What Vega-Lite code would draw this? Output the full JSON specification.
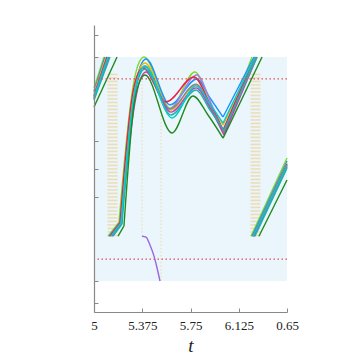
{
  "$schema": "https://vega.github.io/schema/vega-lite/v6.json",
  "width": 193,
  "height": 287,
  "autosize": "none",
  "padding": {"left": 94, "top": 25, "right": 74, "bottom": 43},
  "background": "white",
  "config": {"view": {"stroke": null}},
  "datasets": {
    "bg": [{"x1": 5, "x2": 6.5, "y1": 0, "y2": 1}],
    "hlines": [{"y": 0.902}, {"y": 0.098}],
    "vlines": [
      {"x": 5.109, "ya": 0.2, "yb": 0.93}, {"x": 5.117, "ya": 0.2, "yb": 0.93}, {"x": 5.124, "ya": 0.2, "yb": 0.93},
      {"x": 5.132, "ya": 0.2, "yb": 0.93}, {"x": 5.140, "ya": 0.2, "yb": 0.93}, {"x": 5.148, "ya": 0.2, "yb": 0.93},
      {"x": 5.156, "ya": 0.2, "yb": 0.93}, {"x": 5.163, "ya": 0.2, "yb": 0.93}, {"x": 5.171, "ya": 0.2, "yb": 0.93},
      {"x": 5.179, "ya": 0.2, "yb": 0.93},
      {"x": 5.373, "ya": 0.2, "yb": 0.93},
      {"x": 5.521, "ya": 0.0, "yb": 0.82},
      {"x": 6.220, "ya": 0.2, "yb": 0.93}, {"x": 6.228, "ya": 0.2, "yb": 0.93}, {"x": 6.236, "ya": 0.2, "yb": 0.93},
      {"x": 6.243, "ya": 0.2, "yb": 0.93}, {"x": 6.251, "ya": 0.2, "yb": 0.93}, {"x": 6.259, "ya": 0.2, "yb": 0.93},
      {"x": 6.267, "ya": 0.2, "yb": 0.93}, {"x": 6.275, "ya": 0.2, "yb": 0.93}, {"x": 6.282, "ya": 0.2, "yb": 0.93},
      {"x": 6.290, "ya": 0.2, "yb": 0.93}
    ],
    "tail": [
      {"x": 5.373, "y": 0.2}, {"x": 5.404, "y": 0.196}, {"x": 5.435, "y": 0.161},
      {"x": 5.466, "y": 0.112}, {"x": 5.490, "y": 0.058}, {"x": 5.513, "y": 0.0}
    ],
    "curves": [
      {"c": "lime", "s": 1, "x": 5.0, "y": 0.862}, {"c": "lime", "s": 1, "x": 5.078, "y": 1.0},
      {"c": "lime", "s": 2, "x": 5.109, "y": 0.2}, {"c": "lime", "s": 2, "x": 5.194, "y": 0.263},
      {"c": "lime", "s": 3, "x": 5.194, "y": 0.263}, {"c": "lime", "s": 3, "x": 5.303, "y": 0.866},
      {"c": "lime", "s": 3, "x": 5.342, "y": 0.964}, {"c": "lime", "s": 3, "x": 5.389, "y": 1.0},
      {"c": "lime", "s": 3, "x": 5.591, "y": 0.772}, {"c": "lime", "s": 3, "x": 5.785, "y": 0.933},
      {"c": "lime", "s": 3, "x": 5.894, "y": 0.797}, {"c": "lime", "s": 3, "x": 6.003, "y": 0.661},
      {"c": "lime", "s": 4, "x": 6.003, "y": 0.661}, {"c": "lime", "s": 4, "x": 6.228, "y": 1.0},
      {"c": "lime", "s": 5, "x": 6.220, "y": 0.2}, {"c": "lime", "s": 5, "x": 6.5, "y": 0.549},

      {"c": "blue", "s": 1, "x": 5.0, "y": 0.848}, {"c": "blue", "s": 1, "x": 5.085, "y": 1.0},
      {"c": "blue", "s": 2, "x": 5.117, "y": 0.2}, {"c": "blue", "s": 2, "x": 5.202, "y": 0.263},
      {"c": "blue", "s": 3, "x": 5.202, "y": 0.263}, {"c": "blue", "s": 3, "x": 5.319, "y": 0.857},
      {"c": "blue", "s": 3, "x": 5.358, "y": 0.955}, {"c": "blue", "s": 3, "x": 5.404, "y": 0.991},
      {"c": "blue", "s": 3, "x": 5.591, "y": 0.786}, {"c": "blue", "s": 3, "x": 5.800, "y": 0.902},
      {"c": "blue", "s": 3, "x": 5.902, "y": 0.817}, {"c": "blue", "s": 3, "x": 6.003, "y": 0.732},
      {"c": "blue", "s": 4, "x": 6.003, "y": 0.732}, {"c": "blue", "s": 4, "x": 6.243, "y": 1.0},
      {"c": "blue", "s": 5, "x": 6.228, "y": 0.2}, {"c": "blue", "s": 5, "x": 6.5, "y": 0.536},

      {"c": "gold", "s": 1, "x": 5.0, "y": 0.839}, {"c": "gold", "s": 1, "x": 5.093, "y": 1.0},
      {"c": "gold", "s": 2, "x": 5.124, "y": 0.2}, {"c": "gold", "s": 2, "x": 5.202, "y": 0.259},
      {"c": "gold", "s": 3, "x": 5.202, "y": 0.259}, {"c": "gold", "s": 3, "x": 5.311, "y": 0.839},
      {"c": "gold", "s": 3, "x": 5.350, "y": 0.938}, {"c": "gold", "s": 3, "x": 5.396, "y": 0.973},
      {"c": "gold", "s": 3, "x": 5.591, "y": 0.763}, {"c": "gold", "s": 3, "x": 5.793, "y": 0.875},
      {"c": "gold", "s": 3, "x": 5.902, "y": 0.786}, {"c": "gold", "s": 3, "x": 6.003, "y": 0.696},
      {"c": "gold", "s": 4, "x": 6.003, "y": 0.696}, {"c": "gold", "s": 4, "x": 6.251, "y": 1.0},
      {"c": "gold", "s": 5, "x": 6.236, "y": 0.2}, {"c": "gold", "s": 5, "x": 6.5, "y": 0.527},

      {"c": "purple", "s": 1, "x": 5.0, "y": 0.830}, {"c": "purple", "s": 1, "x": 5.101, "y": 1.0},
      {"c": "purple", "s": 2, "x": 5.132, "y": 0.2}, {"c": "purple", "s": 2, "x": 5.210, "y": 0.259},
      {"c": "purple", "s": 3, "x": 5.210, "y": 0.259}, {"c": "purple", "s": 3, "x": 5.311, "y": 0.826},
      {"c": "purple", "s": 3, "x": 5.350, "y": 0.924}, {"c": "purple", "s": 3, "x": 5.396, "y": 0.960},
      {"c": "purple", "s": 3, "x": 5.583, "y": 0.768}, {"c": "purple", "s": 3, "x": 5.800, "y": 0.920},
      {"c": "purple", "s": 3, "x": 5.909, "y": 0.795}, {"c": "purple", "s": 3, "x": 6.010, "y": 0.661},
      {"c": "purple", "s": 4, "x": 6.010, "y": 0.661}, {"c": "purple", "s": 4, "x": 6.259, "y": 1.0},
      {"c": "purple", "s": 5, "x": 6.243, "y": 0.2}, {"c": "purple", "s": 5, "x": 6.5, "y": 0.518},

      {"c": "red", "s": 1, "x": 5.0, "y": 0.826}, {"c": "red", "s": 1, "x": 5.101, "y": 1.0},
      {"c": "red", "s": 2, "x": 5.124, "y": 0.2}, {"c": "red", "s": 2, "x": 5.202, "y": 0.259},
      {"c": "red", "s": 3, "x": 5.202, "y": 0.259}, {"c": "red", "s": 3, "x": 5.295, "y": 0.817},
      {"c": "red", "s": 3, "x": 5.334, "y": 0.915}, {"c": "red", "s": 3, "x": 5.381, "y": 0.951},
      {"c": "red", "s": 3, "x": 5.560, "y": 0.799}, {"c": "red", "s": 3, "x": 5.777, "y": 0.911},
      {"c": "red", "s": 3, "x": 5.894, "y": 0.799}, {"c": "red", "s": 3, "x": 6.003, "y": 0.674},
      {"c": "red", "s": 4, "x": 6.003, "y": 0.674}, {"c": "red", "s": 4, "x": 6.251, "y": 1.0},
      {"c": "red", "s": 5, "x": 6.236, "y": 0.2}, {"c": "red", "s": 5, "x": 6.5, "y": 0.522},

      {"c": "gray", "s": 1, "x": 5.0, "y": 0.817}, {"c": "gray", "s": 1, "x": 5.109, "y": 1.0},
      {"c": "gray", "s": 2, "x": 5.140, "y": 0.2}, {"c": "gray", "s": 2, "x": 5.210, "y": 0.254},
      {"c": "gray", "s": 3, "x": 5.210, "y": 0.254}, {"c": "gray", "s": 3, "x": 5.311, "y": 0.821},
      {"c": "gray", "s": 3, "x": 5.350, "y": 0.920}, {"c": "gray", "s": 3, "x": 5.396, "y": 0.955},
      {"c": "gray", "s": 3, "x": 5.591, "y": 0.768}, {"c": "gray", "s": 3, "x": 5.793, "y": 0.879},
      {"c": "gray", "s": 3, "x": 5.902, "y": 0.781}, {"c": "gray", "s": 3, "x": 6.010, "y": 0.665},
      {"c": "gray", "s": 4, "x": 6.010, "y": 0.665}, {"c": "gray", "s": 4, "x": 6.259, "y": 1.0},
      {"c": "gray", "s": 5, "x": 6.243, "y": 0.2}, {"c": "gray", "s": 5, "x": 6.5, "y": 0.513},

      {"c": "magenta", "s": 1, "x": 5.0, "y": 0.813}, {"c": "magenta", "s": 1, "x": 5.117, "y": 1.0},
      {"c": "magenta", "s": 2, "x": 5.140, "y": 0.2}, {"c": "magenta", "s": 2, "x": 5.210, "y": 0.254},
      {"c": "magenta", "s": 3, "x": 5.210, "y": 0.254}, {"c": "magenta", "s": 3, "x": 5.319, "y": 0.799},
      {"c": "magenta", "s": 3, "x": 5.358, "y": 0.897}, {"c": "magenta", "s": 3, "x": 5.404, "y": 0.933},
      {"c": "magenta", "s": 3, "x": 5.598, "y": 0.754}, {"c": "magenta", "s": 3, "x": 5.793, "y": 0.862},
      {"c": "magenta", "s": 3, "x": 5.902, "y": 0.772}, {"c": "magenta", "s": 3, "x": 6.010, "y": 0.652},
      {"c": "magenta", "s": 4, "x": 6.010, "y": 0.652}, {"c": "magenta", "s": 4, "x": 6.267, "y": 1.0},
      {"c": "magenta", "s": 5, "x": 6.243, "y": 0.2}, {"c": "magenta", "s": 5, "x": 6.5, "y": 0.509},

      {"c": "teal", "s": 1, "x": 5.0, "y": 0.808}, {"c": "teal", "s": 1, "x": 5.124, "y": 1.0},
      {"c": "teal", "s": 2, "x": 5.148, "y": 0.2}, {"c": "teal", "s": 2, "x": 5.218, "y": 0.254},
      {"c": "teal", "s": 3, "x": 5.218, "y": 0.254}, {"c": "teal", "s": 3, "x": 5.311, "y": 0.813},
      {"c": "teal", "s": 3, "x": 5.350, "y": 0.911}, {"c": "teal", "s": 3, "x": 5.396, "y": 0.946},
      {"c": "teal", "s": 3, "x": 5.598, "y": 0.741}, {"c": "teal", "s": 3, "x": 5.793, "y": 0.853},
      {"c": "teal", "s": 3, "x": 5.902, "y": 0.763}, {"c": "teal", "s": 3, "x": 6.010, "y": 0.674},
      {"c": "teal", "s": 4, "x": 6.010, "y": 0.674}, {"c": "teal", "s": 4, "x": 6.267, "y": 1.0},
      {"c": "teal", "s": 5, "x": 6.251, "y": 0.2}, {"c": "teal", "s": 5, "x": 6.5, "y": 0.504},

      {"c": "cyan", "s": 1, "x": 5.0, "y": 0.821}, {"c": "cyan", "s": 1, "x": 5.109, "y": 1.0},
      {"c": "cyan", "s": 2, "x": 5.132, "y": 0.2}, {"c": "cyan", "s": 2, "x": 5.210, "y": 0.259},
      {"c": "cyan", "s": 3, "x": 5.210, "y": 0.259}, {"c": "cyan", "s": 3, "x": 5.311, "y": 0.826},
      {"c": "cyan", "s": 3, "x": 5.350, "y": 0.924}, {"c": "cyan", "s": 3, "x": 5.396, "y": 0.960},
      {"c": "cyan", "s": 3, "x": 5.606, "y": 0.728}, {"c": "cyan", "s": 3, "x": 5.793, "y": 0.871},
      {"c": "cyan", "s": 3, "x": 5.902, "y": 0.790}, {"c": "cyan", "s": 3, "x": 6.003, "y": 0.705},
      {"c": "cyan", "s": 4, "x": 6.003, "y": 0.705}, {"c": "cyan", "s": 4, "x": 6.251, "y": 1.0},
      {"c": "cyan", "s": 5, "x": 6.236, "y": 0.2}, {"c": "cyan", "s": 5, "x": 6.5, "y": 0.518},

      {"c": "darkgreen", "s": 1, "x": 5.0, "y": 0.777}, {"c": "darkgreen", "s": 1, "x": 5.179, "y": 1.0},
      {"c": "darkgreen", "s": 2, "x": 5.187, "y": 0.2}, {"c": "darkgreen", "s": 2, "x": 5.233, "y": 0.246},
      {"c": "darkgreen", "s": 3, "x": 5.233, "y": 0.246}, {"c": "darkgreen", "s": 3, "x": 5.311, "y": 0.786},
      {"c": "darkgreen", "s": 3, "x": 5.350, "y": 0.884}, {"c": "darkgreen", "s": 3, "x": 5.396, "y": 0.920},
      {"c": "darkgreen", "s": 3, "x": 5.606, "y": 0.661}, {"c": "darkgreen", "s": 3, "x": 5.769, "y": 0.826},
      {"c": "darkgreen", "s": 3, "x": 5.886, "y": 0.741}, {"c": "darkgreen", "s": 3, "x": 6.003, "y": 0.638},
      {"c": "darkgreen", "s": 4, "x": 6.003, "y": 0.638}, {"c": "darkgreen", "s": 4, "x": 6.306, "y": 1.0},
      {"c": "darkgreen", "s": 5, "x": 6.282, "y": 0.2}, {"c": "darkgreen", "s": 5, "x": 6.5, "y": 0.451}
    ]
  },
  "layer": [
    {
      "data": {"name": "bg"},
      "mark": {"type": "rect", "color": "#EAF6FB"},
      "encoding": {
        "x": {
          "field": "x1", "type": "quantitative",
          "scale": {"domain": [5, 6.5], "nice": false, "zero": false},
          "axis": {
            "values": [5, 5.375, 5.75, 6.125, 6.5],
            "labelExpr": "datum.value == 6.5 ? '0.65' : format(datum.value, '.6~g')",
            "title": "t",
            "titleFont": "Liberation Serif", "titleFontStyle": "italic", "titleFontWeight": "normal",
            "titleFontSize": 19, "titleColor": "#222", "titlePadding": 4,
            "labelFont": "Liberation Serif", "labelFontSize": 13, "labelColor": "#222",
            "labelPadding": 11, "labelFlush": false,
            "grid": false, "domainColor": "#888", "domainWidth": 1.2,
            "tickColor": "#888", "tickSize": -4, "tickWidth": 1, "zindex": 1
          }
        },
        "x2": {"field": "x2"},
        "y": {
          "field": "y1", "type": "quantitative",
          "scale": {"domain": [-0.1384, 1.1429], "nice": false, "zero": false},
          "axis": {
            "values": [-0.1, 0, 0.375, 0.5, 0.625, 1, 1.1],
            "labels": false, "title": null, "grid": false,
            "domainColor": "#888", "domainWidth": 1.2,
            "tickColor": "#888", "tickSize": -4, "tickWidth": 1, "zindex": 1
          }
        },
        "y2": {"field": "y2"}
      }
    },
    {
      "data": {"name": "vlines"},
      "mark": {"type": "rule", "color": "#F2B445", "opacity": 0.42, "strokeWidth": 1, "strokeDash": [1.5, 2]},
      "encoding": {
        "x": {"field": "x", "type": "quantitative"},
        "y": {"field": "ya", "type": "quantitative"},
        "y2": {"field": "yb"}
      }
    },
    {
      "data": {"name": "curves"},
      "mark": {"type": "line", "strokeWidth": 1.4, "interpolate": "monotone"},
      "encoding": {
        "x": {"field": "x", "type": "quantitative"},
        "y": {"field": "y", "type": "quantitative"},
        "detail": {"field": "s"},
        "color": {
          "field": "c", "type": "nominal", "legend": null,
          "scale": {
            "domain": ["lime", "blue", "gold", "purple", "red", "gray", "magenta", "teal", "cyan", "darkgreen"],
            "range": ["#7EDC2E", "#1E8FFF", "#F5B800", "#A080E0", "#E8204A", "#7A8A9A", "#C040B8", "#20B2AA", "#00CED1", "#1F8A1F"]
          }
        }
      }
    },
    {
      "data": {"name": "tail"},
      "mark": {"type": "line", "strokeWidth": 1.4, "interpolate": "monotone", "color": "#9966DD"},
      "encoding": {
        "x": {"field": "x", "type": "quantitative"},
        "y": {"field": "y", "type": "quantitative"}
      }
    },
    {
      "data": {"name": "hlines"},
      "mark": {"type": "rule", "color": "#E0505A", "strokeWidth": 1.2, "strokeDash": [1.5, 2.5]},
      "encoding": {
        "y": {"field": "y", "type": "quantitative"}
      }
    }
  ]
}
